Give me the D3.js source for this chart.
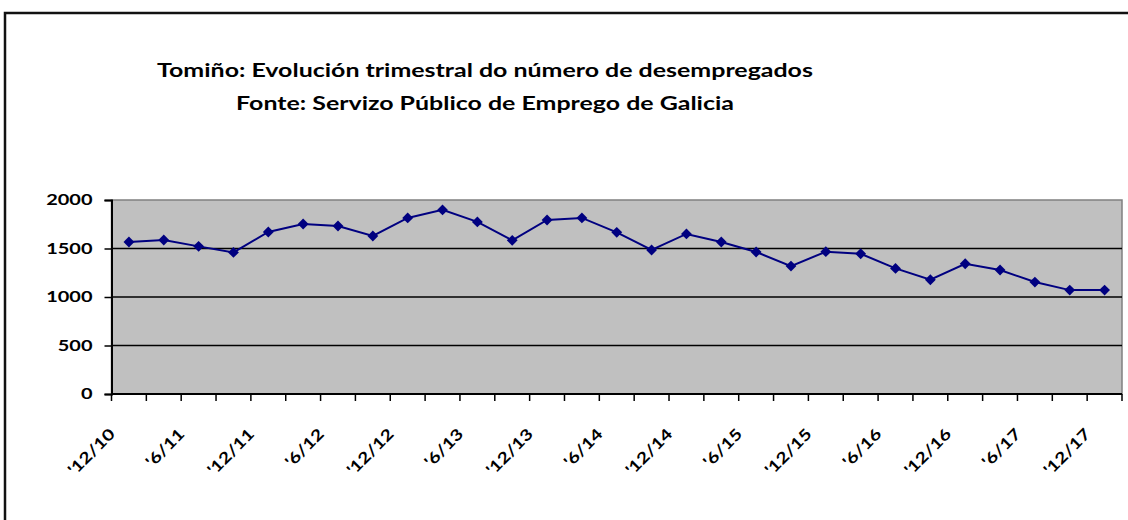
<!DOCTYPE html>
<html>
<head>
<meta charset="utf-8">
<script src="https://cdn.jsdelivr.net/npm/d3@7"></script>
<style>
  html, body { margin: 0; padding: 0; background: #fff; }
  svg { display: block; font-family: Lato, "Open Sans", sans-serif; font-weight: bold; }
</style>
</head>
<body>
<svg id="chart" width="1128" height="520"></svg>
<script>
'use strict';

// Quarterly figures, Dec 2010 .. Dec 2017
const quarters = [
    "'12/10", "'3/11", "'6/11", "'9/11", "'12/11", "'3/12", "'6/12", "'9/12",
    "'12/12", "'3/13", "'6/13", "'9/13", "'12/13", "'3/14", "'6/14", "'9/14",
    "'12/14", "'3/15", "'6/15", "'9/15", "'12/15", "'3/16", "'6/16", "'9/16",
    "'12/16", "'3/17", "'6/17", "'9/17", "'12/17"
];
const unemployed = [
    1567, 1588, 1522, 1460, 1670, 1753, 1732, 1629,
    1815, 1898, 1774, 1584, 1794, 1815, 1667, 1485,
    1650, 1567, 1464, 1319, 1467, 1446, 1295, 1178,
    1343, 1278, 1154, 1071, 1071
];
const yTicks = [0, 500, 1000, 1500, 2000];
const titleLines = [
    'Tomiño: Evolución trimestral do número de desempregados',
    'Fonte: Servizo Público de Emprego de Galicia'
];

// the original chart image is stretched sideways, so the text is too
const stretch = 1.28;

const svg = d3.select('#chart');
const plot = { left: 111.5, right: 1122, top: 200, bottom: 394 };

// outer frame of the chart object
svg.append('rect')
    .attr('x', 5).attr('y', 13)
    .attr('width', 1140).attr('height', 540)
    .attr('fill', 'none').attr('stroke', '#111').attr('stroke-width', 2.5);

// titles
svg.selectAll('text.title')
    .data(titleLines)
    .enter()
    .append('text')
    .attr('class', 'title')
    .attr('transform', (_, i) => `translate(485,${77 + i * 33}) scale(${stretch},1)`)
    .attr('text-anchor', 'middle')
    .attr('font-size', 19.5)
    .attr('fill', '#000')
    .text(d => d);

const x = d3.scaleBand()
    .domain(quarters)
    .range([plot.left, plot.right])
    .paddingInner(0).paddingOuter(0);

const y = d3.scaleLinear()
    .domain([0, 2000])
    .range([plot.bottom, plot.top]);

// plot area background
svg.append('rect')
    .attr('x', plot.left).attr('y', plot.top)
    .attr('width', plot.right - plot.left)
    .attr('height', plot.bottom - plot.top)
    .attr('fill', '#c0c0c0')
    .attr('stroke', '#808080').attr('stroke-width', 1.5);

// gridlines
svg.append('g')
    .selectAll('line')
    .data(yTicks.filter(d => d > 0 && d < 2000))
    .enter()
    .append('line')
    .attr('x1', plot.left).attr('x2', plot.right)
    .attr('y1', d => y(d)).attr('y2', d => y(d))
    .attr('stroke', '#000').attr('stroke-width', 1.5);

// y axis
const yAxis = svg.append('g')
    .attr('transform', `translate(${plot.left},0)`)
    .call(d3.axisLeft(y).tickValues(yTicks).tickSize(7).tickFormat(d3.format('d')));
yAxis.select('.domain').attr('stroke', '#000').attr('stroke-width', 2);
yAxis.selectAll('.tick line').attr('stroke', '#000').attr('stroke-width', 1.5);
yAxis.selectAll('.tick text')
    .attr('x', null)
    .attr('transform', `translate(-19,0) scale(${stretch},1)`)
    .attr('font-family', 'Lato, sans-serif')
    .attr('font-weight', 'bold')
    .attr('font-size', 15.6)
    .attr('fill', '#000');

// x axis: ticks sit on the category boundaries
const boundaries = d3.range(quarters.length + 1).map(i => plot.left + i * x.step());
svg.append('g')
    .selectAll('line')
    .data(boundaries)
    .enter()
    .append('line')
    .attr('x1', d => d).attr('x2', d => d)
    .attr('y1', plot.bottom).attr('y2', plot.bottom + 7)
    .attr('stroke', '#000').attr('stroke-width', 1.5);
svg.append('line')
    .attr('x1', plot.left).attr('x2', plot.right)
    .attr('y1', plot.bottom).attr('y2', plot.bottom)
    .attr('stroke', '#000').attr('stroke-width', 2);

// rotated category labels, every other quarter
svg.append('g')
    .selectAll('text')
    .data(quarters.filter((_, i) => i % 2 === 0))
    .enter()
    .append('text')
    .attr('transform', d => `translate(${x(d) + x.bandwidth() / 2 - 13},${plot.bottom + 41}) rotate(-45) scale(1.25,1)`)
    .attr('text-anchor', 'end')
    .attr('font-size', 15.6)
    .attr('fill', '#000')
    .text(d => d);

// series line
const line = d3.line()
    .x((d, i) => x(quarters[i]) + x.bandwidth() / 2)
    .y(d => y(d));
svg.append('path')
    .datum(unemployed)
    .attr('d', line)
    .attr('fill', 'none')
    .attr('stroke', '#000080')
    .attr('stroke-width', 2);

// diamond markers
svg.append('g')
    .selectAll('path')
    .data(unemployed)
    .enter()
    .append('path')
    .attr('transform', (d, i) => `translate(${x(quarters[i]) + x.bandwidth() / 2},${y(d)})`)
    .attr('d', d3.symbol().type(d3.symbolDiamond2).size(75))
    .attr('fill', '#000080');
</script>
</body>
</html>
